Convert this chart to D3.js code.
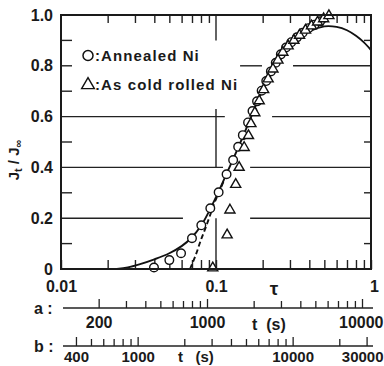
<!DOCTYPE html>
<html>
<head>
<meta charset="utf-8">
<script src="https://cdn.jsdelivr.net/npm/d3@7"></script>
<style>
  body { margin: 0; background: #fff; }
  text { font-family: "Liberation Sans", Arial, sans-serif; font-weight: bold; fill: #1a1a1a; }
</style>
</head>
<body>
<svg id="chart" width="384" height="366"></svg>
<script>
// values: [tau, Jt/Jinf]
var annealed = [[0.0398,0.006],[0.050,0.035],[0.0595,0.062],[0.070,0.121],[0.0804,0.172],[0.0919,0.239],
  [0.104,0.302],[0.117,0.373],[0.129,0.429],[0.139,0.481],[0.149,0.527],[0.161,0.577],[0.172,0.622],
  [0.184,0.66],[0.197,0.702],[0.211,0.74],[0.226,0.778],[0.243,0.812],[0.262,0.845],[0.283,0.872],
  [0.306,0.893],[0.333,0.912],[0.362,0.93],[0.395,0.948],[0.432,0.962],[0.47,0.975]]

var coldRolled = [[0.0953,0.004],[0.118,0.134],[0.123,0.232],[0.134,0.333],[0.141,0.40],[0.152,0.478],
  [0.162,0.525],[0.168,0.572],[0.178,0.615],[0.19,0.662],[0.203,0.706],[0.217,0.748],[0.233,0.787],
  [0.251,0.822],[0.27,0.853],[0.292,0.878],[0.318,0.9],[0.346,0.92],[0.378,0.94],[0.413,0.957],
  [0.452,0.972],[0.495,0.985],[0.535,0.997]]

var theory = [[0.0229,0],[0.027,0.006],[0.032,0.018],[0.04,0.038],[0.05,0.062],[0.06,0.09],[0.07,0.125],
  [0.08,0.17],[0.09,0.226],[0.1,0.283],[0.11,0.338],[0.12,0.39],[0.13,0.437],[0.15,0.525],[0.17,0.605],
  [0.2,0.705],[0.25,0.81],[0.3,0.872],[0.35,0.91],[0.4,0.935],[0.5,0.955],[0.6,0.953],[0.7,0.94],
  [0.8,0.918],[0.9,0.892],[1.0,0.862]]

var dashed = [[0.068,0],[0.074,0.055],[0.08,0.115],[0.086,0.165],[0.092,0.215],[0.098,0.262],[0.105,0.305],[0.112,0.345]]

var yLabels = [0, 0.2, 0.4, 0.6, 0.8, 1.0]
var yMinor = [0.1, 0.3, 0.5, 0.7, 0.9]
var tauLabels = [0.01, 0.1, 1]
var tauMinor = [0.02,0.03,0.04,0.05,0.06,0.07,0.08,0.09,0.2,0.3,0.4,0.5,0.6,0.7,0.8,0.9]

// secondary time axes: t (s) for sample a and b
var aDomain = [114.3, 11430]
var aTicks = [200,300,400,500,600,700,800,900,1000,2000,3000,4000,5000,6000,7000,8000,9000,10000]
var aLabels = [200, 1000, 10000]
var bDomain = [320.3, 32030]
var bTicks = [400,500,600,700,800,900,1000,2000,3000,4000,5000,6000,7000,8000,9000,10000,20000,30000]
var bLabels = [400, 1000, 10000, 30000]

var margin = { top: 15, left: 61, right: 371, bottom: 269 }

var svg = d3.select("#chart")

var x = d3.scaleLog().domain([0.01, 1]).range([margin.left, margin.right])
var y = d3.scaleLinear().domain([0, 1]).range([margin.bottom, margin.top])

// broken grid lines (the figure leaves gaps round the data)
var hGrid = [[0.2,0.01,0.0612],[0.2,0.166,1],[0.4,0.01,0.111],[0.4,0.166,1],
             [0.6,0.01,0.114],[0.6,0.23,1],[0.8,0.143,0.198],[0.8,0.314,1]]
svg.append("g").selectAll("line").data(hGrid).enter().append("line")
  .attr("x1", d => x(d[1])).attr("x2", d => x(d[2]))
  .attr("y1", d => y(d[0])).attr("y2", d => y(d[0]))
  .attr("stroke", "#222").attr("stroke-width", 1.4)

var vGrid = [[0.1,0,0.2],[0.1,0.4,0.63],[0.1,0.9,1]]
svg.append("g").selectAll("line").data(vGrid).enter().append("line")
  .attr("x1", d => x(d[0])).attr("x2", d => x(d[0]))
  .attr("y1", d => y(d[1])).attr("y2", d => y(d[2]))
  .attr("stroke", "#222").attr("stroke-width", 1.4)

// tau axes
var fmtTau = d => tauLabels.indexOf(d) >= 0 ? (d == 1 ? "1" : String(d)) : ""
svg.append("g").attr("transform", "translate(0," + margin.bottom + ")")
  .call(d3.axisBottom(x).tickValues(tauLabels.concat(tauMinor)).tickSizeInner(-9).tickSizeOuter(0).tickPadding(12).tickFormat(fmtTau))
  .call(g => g.select(".domain").remove())
  .call(g => g.selectAll("text").attr("font-size", 16).attr("font-family", null))
  .call(g => g.selectAll(".tick").filter(d => d == 1).select("text").attr("dx", 3))
svg.append("g").attr("transform", "translate(0," + margin.top + ")")
  .call(d3.axisTop(x).tickValues(tauMinor).tickSizeInner(-8).tickSizeOuter(0).tickFormat(""))
  .call(g => g.select(".domain").remove())
svg.selectAll(".tick line").attr("stroke", "#222").attr("stroke-width", 1.4)

svg.append("text").attr("x", 274).attr("y", 295).attr("text-anchor", "middle")
  .attr("font-size", 19).text("τ")

// y axis
svg.append("g").attr("transform", "translate(" + margin.left + ",0)")
  .call(d3.axisLeft(y).tickValues(yLabels).tickSize(0).tickPadding(8).tickFormat(d => d == 0 ? "0" : d3.format(".1f")(d)))
  .call(g => g.select(".domain").remove())
  .call(g => g.selectAll("text").attr("font-size", 16).attr("font-family", null))

var leftTicks = yMinor.concat([0.8])
svg.append("g").selectAll("line").data(leftTicks).enter().append("line")
  .attr("x1", margin.left).attr("x2", margin.left + 11).attr("y1", d => y(d)).attr("y2", d => y(d))
  .attr("stroke", "#222").attr("stroke-width", 1.4)
svg.append("g").selectAll("line").data(yMinor).enter().append("line")
  .attr("x1", margin.right - 7).attr("x2", margin.right).attr("y1", d => y(d)).attr("y2", d => y(d))
  .attr("stroke", "#222").attr("stroke-width", 1.4)

svg.append("text").attr("transform", "translate(19,160) rotate(-90)")
  .attr("text-anchor", "middle").attr("font-size", 15)
  .call(t => {
    t.append("tspan").text("J")
    t.append("tspan").attr("font-size", 11).attr("dy", 3).text("t")
    t.append("tspan").attr("dy", -3).text(" / J")
    t.append("tspan").attr("font-size", 11).attr("dy", 3).text("∞")
  })

// curves
var line = d3.line().x(d => x(d[0])).y(d => y(d[1])).curve(d3.curveCatmullRom)
svg.append("path").datum(theory).attr("d", line)
  .attr("fill", "none").attr("stroke", "#111").attr("stroke-width", 1.9)
svg.append("path").datum(dashed).attr("d", line)
  .attr("fill", "none").attr("stroke", "#111").attr("stroke-width", 1.9).attr("stroke-dasharray", "5,3")

// markers
svg.append("g").selectAll("circle").data(annealed).enter().append("circle")
  .attr("cx", d => x(d[0])).attr("cy", d => y(d[1])).attr("r", 4.3)
  .attr("fill", "#fff").attr("stroke", "#111").attr("stroke-width", 1.4)
var tri = d3.symbol().type(d3.symbolTriangle).size(44)
svg.append("g").selectAll("path").data(coldRolled).enter().append("path")
  .attr("d", tri).attr("transform", d => "translate(" + x(d[0]) + "," + y(d[1]) + ")")
  .attr("fill", "#fff").attr("stroke", "#111").attr("stroke-width", 1.4)

// frame
svg.append("rect").attr("x", margin.left).attr("y", margin.top)
  .attr("width", margin.right - margin.left).attr("height", margin.bottom - margin.top)
  .attr("fill", "none").attr("stroke", "#1a1a1a").attr("stroke-width", 2)

// legend
var legend = svg.append("g").attr("font-size", 15).attr("letter-spacing", 1.1)
legend.append("circle").attr("cx", 88).attr("cy", 55.5).attr("r", 5)
  .attr("fill", "none").attr("stroke", "#111").attr("stroke-width", 1.5)
legend.append("text").attr("x", 95).attr("y", 61).text(":Annealed Ni")
legend.append("path").attr("d", d3.symbol().type(d3.symbolTriangle).size(70)).attr("transform", "translate(88,85)")
  .attr("fill", "none").attr("stroke", "#111").attr("stroke-width", 1.4)
legend.append("text").attr("x", 95).attr("y", 90).text(":As cold rolled Ni")

// time axes a and b
function timeAxis(domain, ticks, labels, yPos, pad, size, name) {
  var s = d3.scaleLog().domain(domain).range([margin.left, margin.right])
  var g = svg.append("g").attr("transform", "translate(0," + yPos + ")")
    .call(d3.axisBottom(s).tickValues(ticks).tickSizeInner(-7).tickSizeOuter(0).tickPadding(pad)
      .tickFormat(d => labels.indexOf(d) >= 0 ? String(d) : ""))
  g.select(".domain").remove()
  g.append("line").attr("x1", margin.left + 2).attr("x2", margin.right + 2).attr("stroke", "#222").attr("stroke-width", 1.4)
  g.selectAll(".tick line").attr("stroke", "#222").attr("stroke-width", 1.3)
    .filter(d => labels.indexOf(d) >= 0).attr("y2", -9)
  g.selectAll("text").attr("font-size", size).attr("font-family", null).attr("fill", "#1a1a1a")
  // keep the last label inside the picture
  g.selectAll(".tick").filter(d => s(d) + size * 1.4 > 384).select("text").attr("text-anchor", "end").attr("dx", 384 - 1)
    .attr("x", function(d) { return -s(d) })
  svg.append("text").attr("x", 34).attr("y", yPos + 6).attr("font-size", 16).text(name + " :")
  return s
}
timeAxis(aDomain, aTicks, aLabels, 308, 9, 16, "a")
timeAxis(bDomain, bTicks, bLabels, 346, 5.5, 15, "b")

svg.append("text").attr("x", 252).attr("y", 330).attr("font-size", 16).attr("xml:space", "preserve").text("t  (s)")
svg.append("text").attr("x", 178).attr("y", 362).attr("font-size", 15).attr("xml:space", "preserve").text("t   (s)")
</script>
</body>
</html>
